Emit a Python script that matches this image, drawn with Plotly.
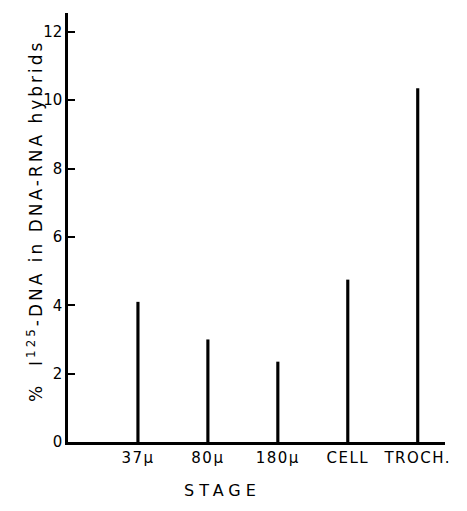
import plotly.graph_objects as go

stages = ["37\u03bc", "80\u03bc", "180\u03bc", "CELL", "TROCH."]
values = [4.1, 3.0, 2.35, 4.75, 10.35]
y_ticks = [0, 2, 4, 6, 8, 10, 12]

FONT = "DejaVu Sans, Liberation Sans, sans-serif"


def spaced(t, px):
    return '<span style="letter-spacing:%spx">%s</span>' % (px, t)


fig = go.Figure()
fig.add_trace(go.Bar(
    x=list(range(len(stages))), y=values, width=0.045,
    marker=dict(color="black", line=dict(width=0)),
))

fig.update_layout(
    width=459, height=503,
    margin=dict(l=60, r=22, t=5, b=69),
    plot_bgcolor="white", paper_bgcolor="white",
    showlegend=False,
    font=dict(family=FONT, color="black", size=15),
    xaxis=dict(
        range=[-1, 4.39],
        tickvals=list(range(len(stages))),
        ticktext=[spaced(s, 1.5) for s in stages],
        showline=True, linecolor="black", linewidth=2.5,
        showgrid=False, zeroline=False, ticks="",
        tickfont=dict(size=15, family=FONT),
    ),
    yaxis=dict(
        range=[0, 12.55], tickvals=y_ticks,
        showline=True, linecolor="black", linewidth=2.5,
        showgrid=False, zeroline=False,
        ticks="inside", ticklen=7, tickwidth=2, tickcolor="black",
        tickfont=dict(size=15, family=FONT),
    ),
    annotations=[
        dict(text=spaced("%  I<sup>125</sup>-DNA in DNA-RNA hybrids", 3),
             textangle=-90,
             xref="paper", yref="paper", x=-0.088, y=0.515,
             xanchor="center", yanchor="middle", showarrow=False,
             font=dict(size=17, family=FONT)),
        dict(text=spaced("STAGE", 5), xref="paper", yref="paper",
             x=0.41, y=-0.112, xanchor="center", yanchor="middle",
             showarrow=False, font=dict(size=16, family=FONT)),
    ],
)

fig.write_html("out.html")
